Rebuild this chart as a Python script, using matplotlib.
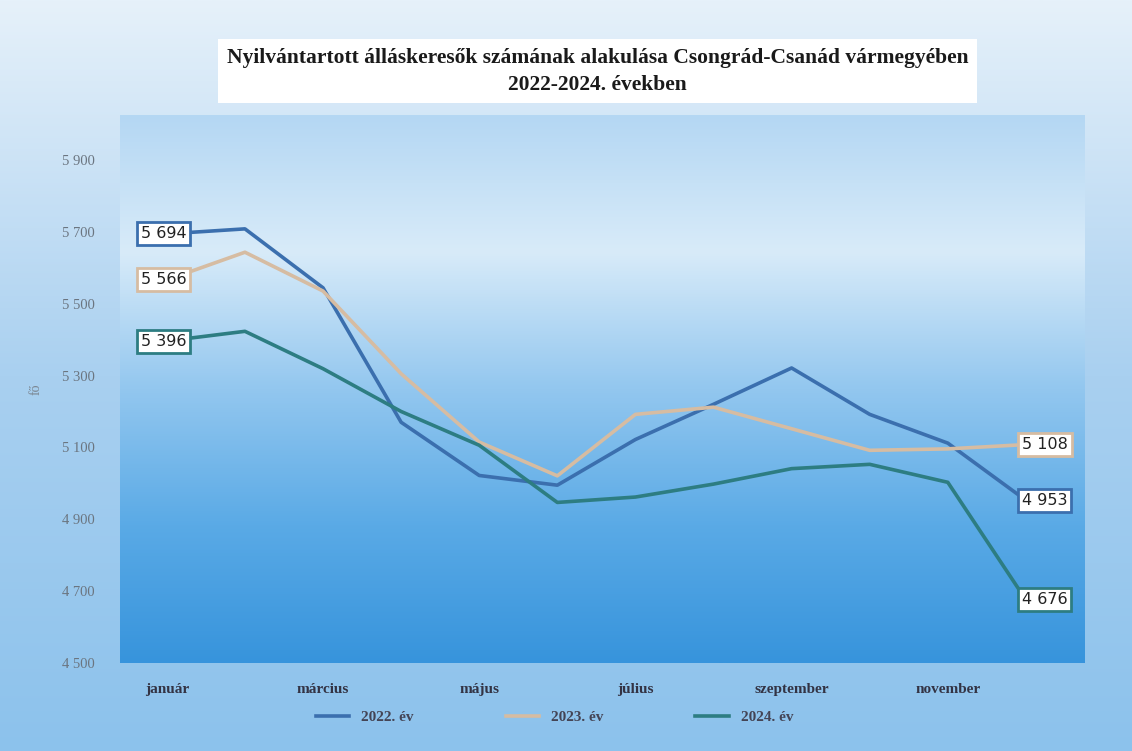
import numpy as np
import matplotlib
matplotlib.use("Agg")
import matplotlib.pyplot as plt
from matplotlib.colors import LinearSegmentedColormap

# adatok
honapok = ["január", "február", "március", "április", "május", "június",
           "július", "augusztus", "szeptember", "október", "november", "december"]
ev_2022 = [5694, 5708, 5544, 5170, 5022, 4995, 5122, 5220, 5321, 5192, 5112, 4953]
ev_2023 = [5566, 5643, 5535, 5305, 5115, 5021, 5192, 5212, 5152, 5092, 5096, 5108]
ev_2024 = [5396, 5423, 5319, 5200, 5106, 4947, 4962, 4998, 5041, 5053, 5003, 4676]
sorozatok = ["2022. év", "2023. év", "2024. év"]
szinek = ["#3b6fae", "#d6bca2", "#2d7d82"]
y_tickek = [4500, 4700, 4900, 5100, 5300, 5500, 5700, 5900]

fig = plt.figure(figsize=(11.32, 7.51), dpi=100)

# háttér színátmenet (a teljes ábra)
bg = fig.add_axes([0, 0, 1, 1], zorder=-10)
bg_cmap = LinearSegmentedColormap.from_list("bg", ["#e6f1fa", "#a9d0f0", "#8cc2ec"])
bg.imshow(np.linspace(0, 1, 256).reshape(-1, 1), aspect="auto", cmap=bg_cmap,
          extent=[0, 1, 0, 1], origin="upper")
bg.axis("off")

ax = fig.add_axes([0.106, 0.117, 0.852, 0.730])
x = np.arange(len(honapok))

# rajzterület színátmenet
pa_cmap = LinearSegmentedColormap.from_list(
    "pa", ["#b4d7f3", "#d8ebf9", "#93c7ef", "#5aaae6", "#3794dc"])
ax.imshow(np.linspace(0, 1, 256).reshape(-1, 1), aspect="auto", cmap=pa_cmap,
          extent=[-0.6, 11.75, 4500, 6025], origin="upper", zorder=0)

for adat, nev, szin in zip([ev_2022, ev_2023, ev_2024], sorozatok, szinek):
    ax.plot(x, adat, color=szin, linewidth=2.6, label=nev, zorder=3)
    # adatfeliratok az első és utolsó pontnál
    ax.annotate(f"{adat[0]:,}".replace(",", " "), (x[0], adat[0]),
                xytext=(14, 0), textcoords="offset points", ha="right", va="center",
                fontsize=11.5, color="#222222", zorder=5,
                bbox=dict(boxstyle="square,pad=0.25", fc="white", ec=szin, lw=2))
    ax.annotate(f"{adat[-1]:,}".replace(",", " "), (x[-1], adat[-1]),
                xytext=(-3, 0), textcoords="offset points", ha="left", va="center",
                fontsize=11.5, color="#222222", zorder=5,
                bbox=dict(boxstyle="square,pad=0.25", fc="white", ec=szin, lw=2))

ax.set_xlim(-0.6, 11.75)
ax.set_ylim(4500, 6025)
ax.set_xticks(x[::2])
ax.set_xticklabels(honapok[::2], fontfamily="Liberation Serif", fontweight="bold",
                   fontsize=11, color="#333344")
ax.set_yticks(y_tickek)
ax.set_yticklabels([f"{v:,}".replace(",", " ") for v in y_tickek],
                   fontfamily="Liberation Serif", fontsize=10.5, color="#6b7580")
ax.tick_params(length=0, pad=18)
ax.tick_params(axis="x", pad=14)
for s in ax.spines.values():
    s.set_visible(False)
ax.set_ylabel("fő", fontfamily="Liberation Serif", color="#7a8590", fontsize=10, labelpad=14)

fig.text(0.528, 0.905, "Nyilvántartott álláskeresők számának alakulása Csongrád-Csanád vármegyében\n2022-2024. években",
         ha="center", va="center", fontfamily="Liberation Serif", fontweight="bold",
         fontsize=15.5, color="#1a1a1a", linespacing=1.45,
         bbox=dict(boxstyle="square,pad=0.4", fc="white", ec="none"))

leg = fig.legend(loc="center", bbox_to_anchor=(0.49, 0.045), ncol=3, frameon=False,
                 prop={"family": "Liberation Serif", "weight": "bold", "size": 11},
                 handlelength=2.2, columnspacing=6)
for t in leg.get_texts():
    t.set_color("#444455")

fig.savefig("out.png", dpi=100)
